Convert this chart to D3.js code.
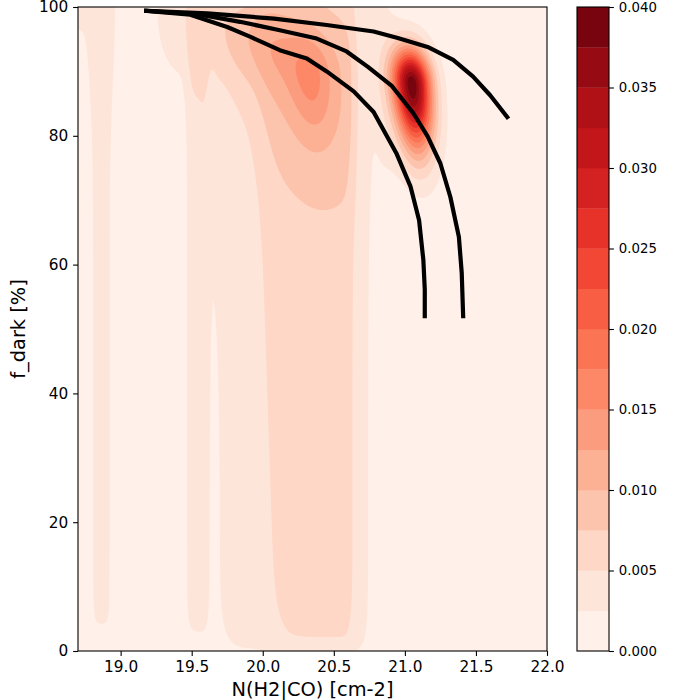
<!DOCTYPE html>
<html>
<head>
<meta charset="utf-8">
<script src="https://cdn.jsdelivr.net/npm/d3@7"></script>
<style>
  body { margin: 0; background: #fff; }
  text { font-family: "DejaVu Sans", sans-serif; fill: #000; }
</style>
</head>
<body>
<svg width="700" height="700"></svg>
<script>
// ---- chart values ----
const xTicks = [19.0, 19.5, 20.0, 20.5, 21.0, 21.5, 22.0]
const yTicks = [0, 20, 40, 60, 80, 100]
const levels = d3.range(17).map(i => i * 0.0025)
const cbarTicks = [0, 0.005, 0.010, 0.015, 0.020, 0.025, 0.030, 0.035, 0.040]

// three model tracks, N(H2|CO) and f_dark
const trackAN = [19.18, 19.49, 19.75, 19.91, 20.12, 20.31, 20.45, 20.64, 20.78, 20.94, 21.04, 21.10, 21.13, 21.14, 21.14]
const trackAF = [99.4, 98.8, 96.9, 95.4, 93.3, 92.0, 90.0, 86.9, 83.7, 77.3, 72.1, 66.9, 60.7, 56.1, 52.0]
const trackBN = [19.18, 19.54, 19.84, 20.12, 20.38, 20.59, 20.74, 20.91, 21.06, 21.16, 21.25, 21.32, 21.38, 21.40, 21.41]
const trackBF = [99.4, 98.9, 97.7, 96.4, 95.1, 93.1, 90.7, 87.7, 83.5, 79.9, 75.7, 70.5, 64.3, 58.7, 52.0]
const trackCN = [19.18, 19.61, 20.08, 20.45, 20.78, 20.95, 21.16, 21.34, 21.48, 21.60, 21.72]
const trackCF = [99.4, 99.0, 98.2, 97.2, 96.2, 95.2, 93.8, 91.8, 89.2, 86.3, 82.9]

// density field: a floor, vertical stripes and peaks (estimated from the bands)
const baseDensity = 0.0009
const stripeNLo = [18.79, 19.468, 19.70, 20.11, 18.60]
const stripeNHi = [18.94, 19.615, 20.742, 20.625, 18.99]
const stripeLoTilt = [0, 0, 0, 0.0015, 0]
const stripeSoftLo = [0.012, 0.015, 0.045, 0.04, 0.02]
const stripeSoftHi = [0.012, 0.015, 0.02, 0.015, 0.03]
const stripeAmp = [0.0020, 0.0032, 0.0032, 0.0023, 0.0019]
const stripeFLo = [1.4, 3.1, 0.4, -3, 88]
const stripeFSoft = [2, 2, 3, 2.5, 5]

const peakN = [21.05, 20.34, 20.30, 19.90, 19.40, 20.84, 19.66]
const peakF = [88, 89, 90, 96, 100, 92, 85]
const peakSN = [0.095, 0.10, 0.25, 0.25, 0.15, 0.08, 0.05]
const peakSUp = [3.9, 4, 6, 4, 10, 10, 15]
const peakSDown = [7, 6, 12.5, 6, 10, 17, 24]
const peakTilt = [0.004, 0.004, 0.006, 0.008, 0, 0, 0]
const peakNMax = [Infinity, 20.66, 20.66, 20.66, Infinity, Infinity, Infinity]
const peakAmp = [0.0385, 0.0045, 0.0048, 0.0045, 0.0022, 0.0022, 0.0012]

// ---- layout ----
const margin = { left: 78, right: 547, top: 7, bottom: 651 }
const cbar = { left: 577, right: 609 }

const svg = d3.select("svg")

const x = d3.scaleLinear().domain([18.7, 22.0]).range([margin.left, margin.right])
const y = d3.scaleLinear().domain([0, 100]).range([margin.bottom, margin.top])

const redsStops = ["#fff5f0", "#fee0d2", "#fcbba1", "#fc9272", "#fb6a4a", "#ef3b2c", "#cb181d", "#a50f15", "#67000d"]
const reds = d3.scaleLinear()
    .domain(d3.range(9).map(i => i / 8))
    .range(redsStops)
const nBands = levels.length - 1
const bandColor = k => reds((k + 0.5) / nBands)

const sig = t => 1 / (1 + Math.exp(-t))

function density(n, f) {
    let v = baseDensity
    stripeNLo.forEach((lo, k) => {
        const nLo = lo - stripeLoTilt[k] * f
        v += stripeAmp[k]
            * sig((n - nLo) / stripeSoftLo[k])
            * sig((stripeNHi[k] - n) / stripeSoftHi[k])
            * sig((f - stripeFLo[k]) / stripeFSoft[k])
    })
    peakN.forEach((c, k) => {
        const df = f - peakF[k]
        const dn = n - (c - peakTilt[k] * df)
        const sf = df > 0 ? peakSUp[k] : peakSDown[k]
        v += peakAmp[k]
            * Math.exp(-0.5 * ((dn / peakSN[k]) ** 2 + (df / sf) ** 2))
            * sig((peakNMax[k] - n) / 0.015)
    })
    return v
}

// sample the field on a grid of 2px cells
const cell = 2
const nx = Math.ceil((margin.right - margin.left) / cell)
const ny = Math.ceil((margin.bottom - margin.top) / cell)
const values = new Float64Array(nx * ny)
for (let j = 0; j < ny; j++) {
    const f = y.invert(margin.top + (j + 0.5) * cell)
    for (let i = 0; i < nx; i++) {
        values[j * nx + i] = density(x.invert(margin.left + (i + 0.5) * cell), f)
    }
}

const contours = d3.contours()
    .size([nx, ny])
    .thresholds(levels.slice(0, -1))(values)

const toPixels = d3.geoTransform({
    point(px, py) { this.stream.point(margin.left + px * cell, margin.top + py * cell) }
})
const path = d3.geoPath(toPixels)

svg.append("clipPath").attr("id", "plot-clip")
    .append("rect")
    .attr("x", margin.left).attr("y", margin.top)
    .attr("width", margin.right - margin.left).attr("height", margin.bottom - margin.top)

const plot = svg.append("g").attr("clip-path", "url(#plot-clip)")

plot.selectAll(".band")
    .data(contours)
    .enter().append("path")
    .attr("class", "band")
    .attr("d", path)
    .attr("fill", (d, i) => bandColor(i))

// tracks
const line = d3.line()
    .x(d => x(d[0]))
    .y(d => y(d[1]))

const tracks = [
    d3.zip(trackAN, trackAF),
    d3.zip(trackBN, trackBF),
    d3.zip(trackCN, trackCF),
]

plot.selectAll(".track")
    .data(tracks)
    .enter().append("path")
    .attr("class", "track")
    .attr("d", line)
    .attr("fill", "none")
    .attr("stroke", "#000")
    .attr("stroke-width", 4.2)
    .attr("stroke-linejoin", "round")
    .attr("stroke-linecap", "square")

// frame
svg.append("rect")
    .attr("x", margin.left).attr("y", margin.top)
    .attr("width", margin.right - margin.left).attr("height", margin.bottom - margin.top)
    .attr("fill", "none")
    .attr("stroke", "#000")
    .attr("stroke-width", 1.1)

// axes
const styleAxis = g => {
    g.select(".domain").remove()
    g.selectAll(".tick line").attr("stroke", "#000").attr("stroke-width", 1.1)
    g.selectAll(".tick text").style("font-size", "15.3px").attr("fill", "#000")
}

svg.append("g")
    .attr("transform", `translate(0,${margin.bottom})`)
    .call(d3.axisBottom(x).tickValues(xTicks).tickFormat(d3.format(".1f"))
        .tickSize(4.9).tickPadding(4.9))
    .call(styleAxis)

svg.append("g")
    .attr("transform", `translate(${margin.left},0)`)
    .call(d3.axisLeft(y).tickValues(yTicks).tickFormat(d3.format("d"))
        .tickSize(4.9).tickPadding(4.9))
    .call(styleAxis)

svg.append("text")
    .attr("x", (margin.left + margin.right) / 2)
    .attr("y", 696)
    .attr("text-anchor", "middle")
    .style("font-size", "19.4px")
    .text("N(H2|CO) [cm-2]")

svg.append("text")
    .attr("transform", `translate(25,${(margin.top + margin.bottom) / 2}) rotate(-90)`)
    .attr("text-anchor", "middle")
    .style("font-size", "19.4px")
    .text("f_dark [%]")

// colorbar
const yc = d3.scaleLinear().domain([0, 0.04]).range([margin.bottom, margin.top])

svg.selectAll(".cb-band")
    .data(d3.range(nBands))
    .enter().append("rect")
    .attr("class", "cb-band")
    .attr("x", cbar.left)
    .attr("width", cbar.right - cbar.left)
    .attr("y", k => yc(levels[k + 1]))
    .attr("height", k => yc(levels[k]) - yc(levels[k + 1]) + 0.3)
    .attr("fill", k => bandColor(k))

svg.append("rect")
    .attr("x", cbar.left).attr("y", margin.top)
    .attr("width", cbar.right - cbar.left).attr("height", margin.bottom - margin.top)
    .attr("fill", "none")
    .attr("stroke", "#000")
    .attr("stroke-width", 1.1)

svg.append("g")
    .attr("transform", `translate(${cbar.right},0)`)
    .call(d3.axisRight(yc).tickValues(cbarTicks).tickFormat(d3.format(".3f"))
        .tickSize(4.9).tickPadding(4.9))
    .call(styleAxis)
    .call(g => g.selectAll(".tick text").style("font-size", "13.3px"))
</script>
</body>
</html>
